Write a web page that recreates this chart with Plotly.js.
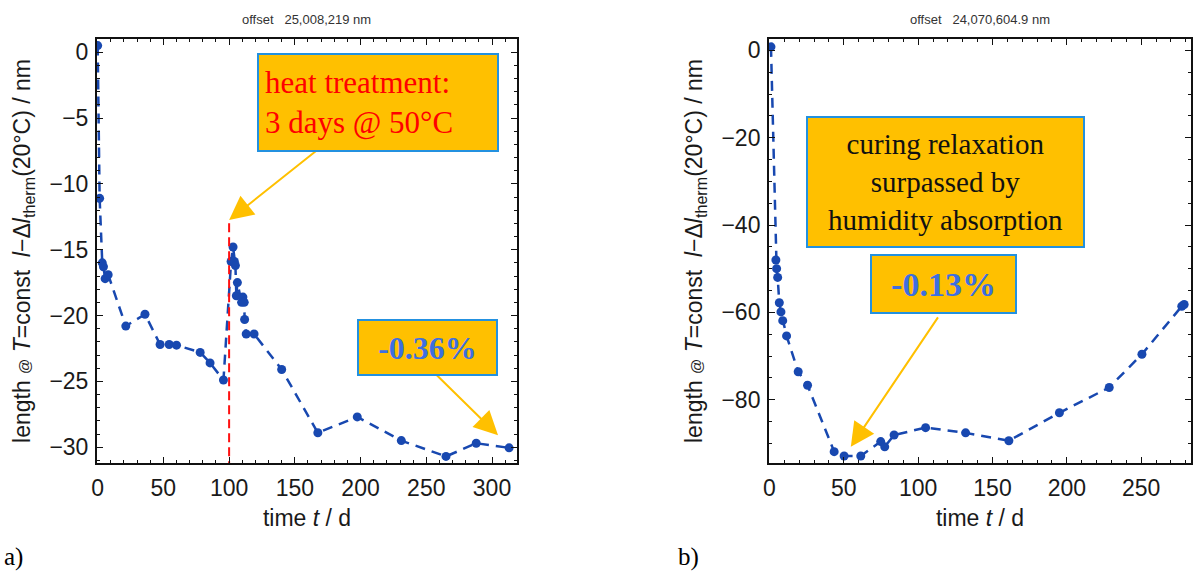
<!DOCTYPE html>
<html><head><meta charset="utf-8">
<script src="https://cdn.plot.ly/plotly-3.0.1.min.js"></script>
<style>body{margin:0;background:#fff}#chart{width:1193px;height:575px}</style>
</head><body><div id="chart"></div>
<script>
// ---- data: panel a) ----
const timeA = [0, 1.5, 3.5, 4.4, 5.7, 8, 21.4, 36, 47.5, 54.4, 60, 78, 85.5, 95.7, 101.5, 103, 104, 104.8, 105.5, 106.3, 109.5, 110.5, 111.5, 111.8, 113, 119, 140, 167.5, 197.5, 231, 265, 288, 313];
const lengthA = [0.5, -11.1, -16.0, -16.3, -17.2, -16.9, -20.8, -19.9, -22.2, -22.2, -22.25, -22.8, -23.6, -24.9, -15.9, -14.8, -15.9, -16.2, -18.5, -17.5, -19.0, -18.6, -19.0, -20.3, -21.4, -21.4, -24.1, -28.9, -27.7, -29.5, -30.7, -29.7, -30.05];
const heatStartX = [100, 100];
const heatStartY = [-13, -31.2];
const offsetA = "offset\u00A0\u00A0\u00A025,008,219\u00A0nm";
const noteHeat = "heat treatment:<br>3 days @ 50°C";
const noteA = "-0.36%";
// ---- data: panel b) ----
const timeB = [1, 4.3, 4.8, 5.5, 6.6, 7.7, 8.9, 11.5, 19.3, 25.6, 43.5, 50.2, 61.4, 74.8, 77.5, 83.8, 105, 131.9, 161, 195, 228.5, 250.5, 277.3, 278.9];
const lengthB = [0.8, -48.0, -50.0, -52.0, -57.8, -59.9, -61.9, -65.4, -73.6, -76.7, -91.9, -92.9, -92.9, -89.6, -90.8, -88.1, -86.4, -87.6, -89.4, -83.0, -77.2, -69.6, -58.6, -58.2];
const offsetB = "offset\u00A0\u00A0\u00A024,070,604.9\u00A0nm";
const noteCuring = "curing relaxation<br>surpassed by<br>humidity absorption";
const noteB = "-0.13%";
const xTitle = "time <i>t</i> / d";
const yTitle = 'length <span style="font-size:15px">@</span> <i>T</i>=const\u00A0\u00A0<i>l</i>\u2212Δ<i>l</i><sub>therm</sub>(20°C) / nm';

const blue = '#1848b0';
const gold = '#FFC000';
const boxBorder = '#2391e0';
const serif = 'Liberation Serif, Times New Roman, serif';
const sans = 'Liberation Sans, Arial, sans-serif';

const dataTrace = (x, y, xa, ya) => ({
  x, y, xaxis: xa, yaxis: ya, type: 'scatter', mode: 'lines+markers',
  line: {color: blue, width: 2.5, dash: '10px,7px'},
  marker: {color: blue, size: 9},
  showlegend: false, hoverinfo: 'x+y'
});

const traces = [
  dataTrace(timeA, lengthA, 'x', 'y'),
  {x: heatStartX, y: heatStartY, xaxis: 'x', yaxis: 'y', type: 'scatter', mode: 'lines',
   line: {color: '#ff1010', width: 2, dash: '9px,5px'}, showlegend: false},
  dataTrace(timeB, lengthB, 'x2', 'y2')
];

const tickFont = {family: sans, size: 23, color: '#1a1a1a'};
const titleFont = {family: sans, size: 23, color: '#1a1a1a'};
const axisCommon = {
  showline: true, linecolor: '#111', linewidth: 2, mirror: 'ticks',
  ticks: 'inside', ticklen: 6, tickwidth: 1, tickcolor: '#111',
  showgrid: false, zeroline: false,
  tickfont: tickFont
};

const layout = {
  width: 1193, height: 575,
  paper_bgcolor: '#fff', plot_bgcolor: '#fff',
  margin: {l: 97, r: 2, t: 39, b: 112},
  showlegend: false,
  xaxis: Object.assign({}, axisCommon, {
    domain: [0, 0.3839], range: [-0.5, 319], tick0: 0, dtick: 50,
    minor: {dtick: 10, ticks: 'inside', ticklen: 3, tickcolor: '#111'},
    ticklabelstandoff: 3,
    title: {text: xTitle, standoff: 10, font: titleFont}
  }),
  yaxis: Object.assign({}, axisCommon, {
    domain: [0, 1], range: [-31.2, 1], tick0: 0, dtick: 5,
    minor: {dtick: 1, ticks: 'inside', ticklen: 3, tickcolor: '#111'},
    ticklabelstandoff: 2,
    title: {text: yTitle, standoff: 12, font: titleFont}
  }),
  xaxis2: Object.assign({}, axisCommon, {
    domain: [0.6143, 1], range: [-0.3, 283.5], tick0: 0, dtick: 50, anchor: 'y2',
    minor: {dtick: 10, ticks: 'inside', ticklen: 3, tickcolor: '#111'},
    ticklabelstandoff: 3,
    title: {text: xTitle, standoff: 10, font: titleFont}
  }),
  yaxis2: Object.assign({}, axisCommon, {
    domain: [0, 1], range: [-94.5, 2.6], tick0: 0, dtick: 20, anchor: 'x2',
    minor: {dtick: 5, ticks: 'inside', ticklen: 3, tickcolor: '#111'},
    ticklabelstandoff: 2,
    title: {text: yTitle, standoff: 12, font: titleFont}
  }),
  annotations: [
    // offset headers
    {xref: 'x domain', yref: 'y domain', x: 0.5, y: 1, yanchor: 'bottom', yshift: 10, showarrow: false,
     text: offsetA, font: {family: sans, size: 13, color: '#333'}},
    {xref: 'x2 domain', yref: 'y2 domain', x: 0.5, y: 1, yanchor: 'bottom', yshift: 10, showarrow: false,
     text: offsetB, font: {family: sans, size: 13, color: '#333'}},
    // arrows (tail -> head)
    {xref: 'x', yref: 'y', axref: 'x', ayref: 'y', x: 100, y: -12.75, ax: 167, ay: -7.44, text: '',
     showarrow: true, arrowcolor: gold, arrowwidth: 2, arrowhead: 2, arrowsize: 2.4},
    {xref: 'x', yref: 'y', axref: 'x', ayref: 'y', x: 304.6, y: -29.1, ax: 256.7, ay: -24.4, text: '',
     showarrow: true, arrowcolor: gold, arrowwidth: 2, arrowhead: 2, arrowsize: 2.4},
    {xref: 'x2', yref: 'y2', axref: 'x2', ayref: 'y2', x: 54.7, y: -90.8, ax: 114, ay: -60.8, text: '',
     showarrow: true, arrowcolor: gold, arrowwidth: 2, arrowhead: 2, arrowsize: 2.4},
    // boxes
    {xref: 'x', yref: 'y', x: 213.3, y: -3.83, showarrow: false, text: noteHeat, align: 'left',
     width: 226, height: 83, bgcolor: gold, bordercolor: boxBorder, borderwidth: 2, borderpad: 6,
     font: {family: serif, size: 31, color: '#ff0000'}},
    {xref: 'x', yref: 'y', x: 251, y: -22.4, showarrow: false, text: '<b>' + noteA + '</b>',
     width: 125, height: 41, bgcolor: gold, bordercolor: boxBorder, borderwidth: 2, borderpad: 6,
     font: {family: serif, size: 32, color: '#3d6fe0'}},
    {xref: 'x2', yref: 'y2', x: 118.1, y: -30.1, showarrow: false, text: noteCuring, align: 'center',
     width: 263, height: 116, bgcolor: gold, bordercolor: boxBorder, borderwidth: 2, borderpad: 6,
     font: {family: serif, size: 29, color: '#111'}},
    {xref: 'x2', yref: 'y2', x: 116.9, y: -53.5, showarrow: false, text: '<b>' + noteB + '</b>',
     width: 131, height: 44, bgcolor: gold, bordercolor: boxBorder, borderwidth: 2, borderpad: 6,
     font: {family: serif, size: 34, color: '#3d6fe0'}},
    // panel labels
    {xref: 'paper', yref: 'paper', x: -95/1094, y: -94/424, xanchor: 'left', yanchor: 'middle', showarrow: false,
     text: 'a)', font: {family: serif, size: 25, color: '#000'}},
    {xref: 'paper', yref: 'paper', x: 579/1094, y: -94/424, xanchor: 'left', yanchor: 'middle', showarrow: false,
     text: 'b)', font: {family: serif, size: 25, color: '#000'}}
  ]
};

Plotly.newPlot('chart', traces, layout, {displayModeBar: false, staticPlot: true});
</script>
</body></html>
